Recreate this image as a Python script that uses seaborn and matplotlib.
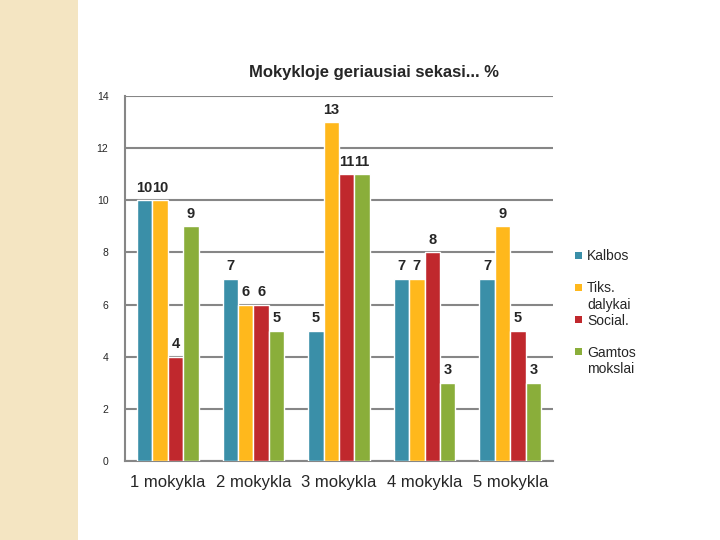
import seaborn as sns
import matplotlib.pyplot as plt
import pandas as pd
from matplotlib.patches import Rectangle

# Chart values
schools = ['1 mokykla', '2 mokykla', '3 mokykla', '4 mokykla', '5 mokykla']
kalbos = [10, 7, 5, 7, 7]
tiks = [10, 6, 13, 7, 9]
social = [4, 6, 11, 8, 5]
gamtos = [9, 5, 11, 3, 3]
series_names = ['Kalbos', 'Tiks.\ndalykai', 'Social.', 'Gamtos\nmokslai']
colors = ['#3A8FA8', '#FFB81C', '#C0282D', '#8AAE3A']

data = pd.DataFrame({
    'school': schools * 4,
    'value': kalbos + tiks + social + gamtos,
    'series': [s for s in series_names for _ in schools],
})

sns.set_style("white")
plt.rcParams['font.family'] = ['Liberation Sans', 'DejaVu Sans']

fig = plt.figure(figsize=(7.2, 5.4), dpi=100)
# decorative strip on the left
fig.patches.append(Rectangle((0, 0), 78 / 720, 1, transform=fig.transFigure,
                             facecolor='#F4E5C2', edgecolor='none', zorder=0))

ax = fig.add_axes([125 / 720, 79 / 540, 428 / 720, 365 / 540])
sns.barplot(data=data, x='school', y='value', hue='series', palette=colors,
            saturation=1, width=0.72, edgecolor='white', linewidth=1,
            ax=ax, zorder=3, legend=False)

for cont in ax.containers:
    ax.bar_label(cont, fontsize=10.5, fontweight='bold', padding=4)

ax.set_ylim(0, 14)
ax.set_yticks(range(0, 15, 2))
ax.set_xlim(-0.5, 4.5)
ax.grid(axis='y', color='#868686', linewidth=1.5, zorder=0)
ax.set_axisbelow(True)
ax.set_xlabel('')
ax.set_ylabel('')
for s in ['top', 'right']:
    ax.spines[s].set_visible(False)
for s in ['left', 'bottom']:
    ax.spines[s].set_color('#868686')
    ax.spines[s].set_linewidth(1.5)

ax.tick_params(axis='y', labelsize=7.5, length=4, color='#868686', width=1.5, pad=8)
ax.tick_params(axis='x', which='major', labelsize=12, length=0, pad=10)
ax.set_xticks([i - 0.5 for i in range(6)], minor=True)
ax.tick_params(axis='x', which='minor', length=6, color='#868686', width=1.5)

# legend: entries evenly spaced, marker next to the first text line
for i, (name, col) in enumerate(zip(series_names, colors)):
    y = 1 - (255 + i * 32.3) / 540
    fig.patches.append(Rectangle((575 / 720, y - 3.5 / 540), 7 / 720, 7 / 540,
                                 transform=fig.transFigure, facecolor=col,
                                 edgecolor='none'))
    fig.text(587 / 720, y + 6 / 540, name, ha='left', va='top',
             fontsize=10, linespacing=1.2)

fig.text(374 / 720, 1 - 73 / 540, 'Mokykloje geriausiai sekasi... %',
         ha='center', va='center', fontsize=12, fontweight='bold')

fig.savefig('out.png', dpi=100)
